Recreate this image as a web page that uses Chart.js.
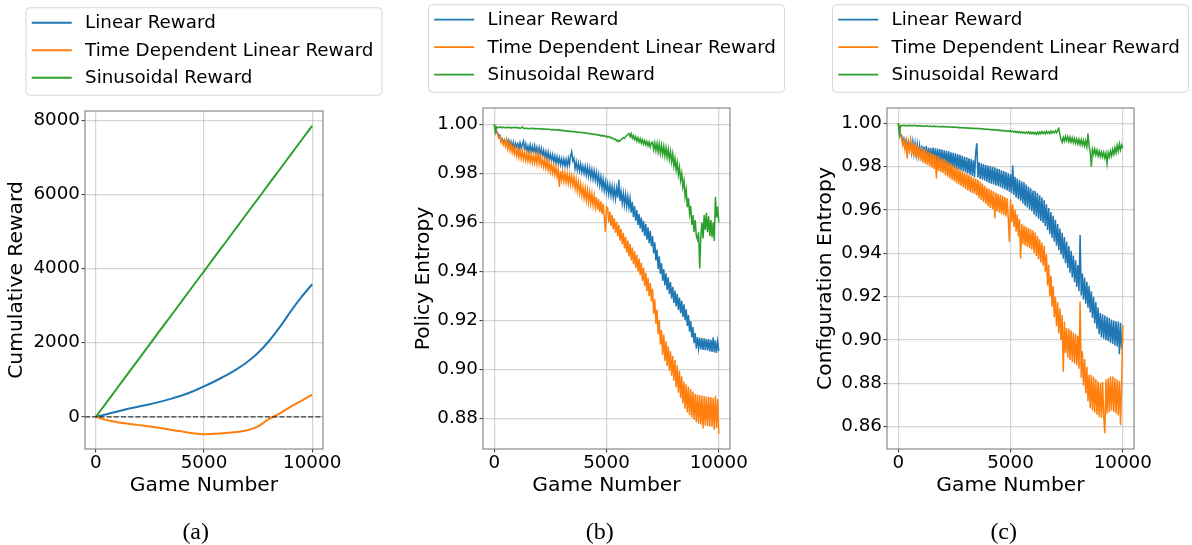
<!DOCTYPE html>
<html>
<head>
<meta charset="utf-8">
<title>Reward, policy entropy and configuration entropy over games</title>
<script src="https://cdn.jsdelivr.net/npm/chart.js@4.4.1/dist/chart.umd.min.js"></script>
<style>
  html, body { margin: 0; padding: 0; background: #ffffff; }
  #wrap { position: relative; width: 1192px; height: 545px; overflow: hidden; background: #ffffff; }
  #wrap canvas { position: absolute; left: 0; top: 0; }
</style>
</head>
<body>
<div id="wrap">
  <canvas id="panelA" width="1192" height="545"></canvas>
  <canvas id="panelB" width="1192" height="545"></canvas>
  <canvas id="panelC" width="1192" height="545"></canvas>
</div>
<script>
// ---------------- data ----------------
const seriesNames = ['Linear Reward', 'Time Dependent Linear Reward', 'Sinusoidal Reward'];

// x tick labels shared by every panel
const gameTicks = [0, 5000, 10000];
const cumulativeTicks = [0, 2000, 4000, 6000, 8000];
const policyTicks = [0.88, 0.90, 0.92, 0.94, 0.96, 0.98, 1.00];
const configTicks = [0.86, 0.88, 0.90, 0.92, 0.94, 0.96, 0.98, 1.00];

// (a) cumulative reward, sampled every 500 games
const gamesCoarse = [0, 500, 1000, 1500, 2000, 2500, 3000, 3500, 4000, 4500, 5000,
  5500, 6000, 6500, 7000, 7500, 8000, 8500, 9000, 9500, 10000];
const cumLinear = [0, 70, 145, 215, 280, 340, 410, 490, 580, 690, 820,
  960, 1110, 1280, 1480, 1730, 2040, 2420, 2840, 3230, 3580];
const cumTimeDep = [0, -90, -145, -185, -225, -260, -300, -355, -400, -445, -470,
  -460, -440, -410, -365, -260, -60, 90, 270, 430, 600];
const cumSinusoidal = [0, 390, 785, 1180, 1570, 1965, 2360, 2750, 3145, 3540, 3930,
  4325, 4715, 5110, 5505, 5895, 6290, 6680, 7075, 7470, 7860];

// (b), (c) entropies, one sample every 50 games (0 .. 10000)
const games = Array.from({ length: 201 }, (_, i) => i * 50);

const policyLinear = [
  1.0000,0.9988,0.9972,0.9966,0.9950,0.9956,0.9934,0.9942,0.9925,0.9937,0.9921,
  0.9938,0.9915,0.9935,0.9911,0.9929,0.9906,0.9927,0.9902,0.9923,0.9908,
  0.9921,0.9897,0.9925,0.9903,0.9918,0.9932,0.9896,0.9920,0.9890,0.9912,
  0.9888,0.9916,0.9885,0.9910,0.9884,0.9913,0.9881,0.9906,0.9879,0.9905,
  0.9875,0.9901,0.9869,0.9893,0.9864,0.9889,0.9860,0.9886,0.9854,0.9879,
  0.9852,0.9876,0.9848,0.9871,0.9842,0.9868,0.9840,0.9864,0.9836,0.9860,
  0.9833,0.9858,0.9830,0.9856,0.9829,0.9861,0.9834,0.9872,0.9889,0.9851,
  0.9862,0.9820,0.9847,0.9814,0.9842,0.9810,0.9838,0.9805,0.9830,0.9801,
  0.9829,0.9794,0.9826,0.9789,0.9821,0.9782,0.9815,0.9778,0.9811,0.9773,
  0.9804,0.9762,0.9795,0.9752,0.9786,0.9741,0.9776,0.9731,0.9766,0.9723,
  0.9757,0.9716,0.9752,0.9710,0.9748,0.9703,0.9742,0.9697,0.9739,0.9701,
  0.9774,0.9688,0.9726,0.9679,0.9719,0.9672,0.9713,0.9665,0.9706,0.9661,
  0.9698,0.9640,0.9684,0.9622,0.9667,0.9607,0.9651,0.9590,0.9634,0.9576,
  0.9620,0.9560,0.9607,0.9545,0.9594,0.9530,0.9580,0.9516,0.9566,0.9503,
  0.9545,0.9474,0.9519,0.9445,0.9489,0.9410,0.9462,0.9390,0.9434,0.9362,
  0.9410,0.9343,0.9393,0.9325,0.9376,0.9308,0.9357,0.9290,0.9338,0.9272,
  0.9322,0.9258,0.9309,0.9243,0.9294,0.9230,0.9281,0.9215,0.9266,0.9202,
  0.9246,0.9178,0.9222,0.9155,0.9198,0.9131,0.9173,0.9108,0.9149,0.9085,
  0.9133,0.9086,0.9130,0.9082,0.9128,0.9080,0.9127,0.9079,0.9125,0.9078,
  0.9124,0.9074,0.9121,0.9072,0.9132,0.9070,0.9119,0.9068,0.9115,0.9075
];
const policyTimeDep = [
  1.0000,0.9982,0.9966,0.9960,0.9945,0.9950,0.9928,0.9940,0.9917,0.9932,0.9911,
  0.9934,0.9901,0.9925,0.9893,0.9918,0.9886,0.9910,0.9879,0.9904,0.9871,
  0.9898,0.9866,0.9894,0.9862,0.9891,0.9858,0.9887,0.9854,0.9882,0.9850,
  0.9879,0.9848,0.9877,0.9845,0.9875,0.9843,0.9873,0.9841,0.9884,0.9840,
  0.9868,0.9833,0.9862,0.9827,0.9856,0.9821,0.9850,0.9815,0.9844,0.9808,
  0.9838,0.9802,0.9831,0.9795,0.9824,0.9788,0.9817,0.9745,0.9810,0.9774,
  0.9806,0.9768,0.9802,0.9764,0.9798,0.9760,0.9794,0.9756,0.9790,0.9752,
  0.9785,0.9740,0.9775,0.9730,0.9765,0.9720,0.9755,0.9710,0.9745,0.9700,
  0.9738,0.9691,0.9731,0.9684,0.9724,0.9677,0.9717,0.9670,0.9710,0.9663,
  0.9704,0.9652,0.9695,0.9643,0.9686,0.9634,0.9677,0.9625,0.9560,0.9664,
  0.9659,0.9600,0.9645,0.9586,0.9631,0.9572,0.9617,0.9558,0.9603,0.9544,
  0.9590,0.9526,0.9574,0.9510,0.9558,0.9494,0.9542,0.9478,0.9526,0.9462,
  0.9513,0.9445,0.9498,0.9430,0.9483,0.9415,0.9468,0.9400,0.9453,0.9385,
  0.9436,0.9362,0.9416,0.9341,0.9395,0.9320,0.9374,0.9299,0.9353,0.9278,
  0.9330,0.9228,0.9287,0.9186,0.9245,0.9144,0.9203,0.9102,0.9161,0.9060,
  0.9143,0.9035,0.9115,0.9015,0.9095,0.8995,0.9075,0.8975,0.9055,0.8955,
  0.9039,0.8928,0.9017,0.8906,0.8995,0.8884,0.8973,0.8862,0.8951,0.8840,
  0.8940,0.8825,0.8930,0.8815,0.8920,0.8805,0.8910,0.8795,0.8900,0.8785,
  0.8898,0.8779,0.8895,0.8776,0.8894,0.8760,0.8892,0.8772,0.8890,0.8770,
  0.8889,0.8768,0.8887,0.8766,0.8885,0.8755,0.8893,0.8762,0.8880,0.8738
];
const policySinusoidal = [
  1.0000,0.9968,0.9990,0.9986,0.9989,0.9987,0.9990,0.9986,0.9989,0.9987,0.9988,
  0.9986,0.9989,0.9987,0.9988,0.9985,0.9988,0.9986,0.9989,0.9986,0.9988,
  0.9985,0.9987,0.9984,0.9986,0.9990,0.9985,0.9983,0.9985,0.9983,0.9984,
  0.9982,0.9984,0.9983,0.9985,0.9982,0.9984,0.9981,0.9983,0.9982,0.9983,
  0.9981,0.9983,0.9980,0.9982,0.9980,0.9982,0.9979,0.9981,0.9979,0.9980,
  0.9978,0.9980,0.9977,0.9979,0.9977,0.9979,0.9976,0.9978,0.9975,0.9977,
  0.9974,0.9976,0.9973,0.9975,0.9972,0.9974,0.9971,0.9973,0.9970,0.9972,
  0.9969,0.9971,0.9968,0.9970,0.9967,0.9969,0.9966,0.9968,0.9965,0.9967,
  0.9964,0.9966,0.9963,0.9964,0.9961,0.9963,0.9960,0.9962,0.9959,0.9960,
  0.9957,0.9959,0.9955,0.9957,0.9953,0.9956,0.9952,0.9954,0.9950,0.9953,
  0.9948,0.9951,0.9946,0.9948,0.9942,0.9944,0.9938,0.9940,0.9933,0.9936,
  0.9929,0.9934,0.9938,0.9942,0.9946,0.9943,0.9950,0.9955,0.9958,0.9963,
  0.9950,0.9962,0.9944,0.9955,0.9938,0.9950,0.9932,0.9946,0.9928,0.9942,
  0.9924,0.9938,0.9920,0.9934,0.9916,0.9930,0.9912,0.9928,0.9908,0.9925,
  0.9928,0.9898,0.9925,0.9893,0.9922,0.9888,0.9920,0.9882,0.9915,0.9878,
  0.9910,0.9872,0.9905,0.9866,0.9898,0.9858,0.9890,0.9848,0.9880,0.9830,
  0.9862,0.9815,0.9845,0.9795,0.9825,0.9772,0.9800,0.9745,0.9772,0.9705,
  0.9735,0.9662,0.9700,0.9635,0.9668,0.9590,0.9630,0.9560,0.9610,0.9545,
  0.9530,0.9560,0.9412,0.9540,0.9600,0.9535,0.9630,0.9570,0.9640,0.9560,
  0.9625,0.9545,0.9610,0.9540,0.9600,0.9525,0.9705,0.9620,0.9665,0.9600
];

const configLinear = [
  1.0000,0.9972,0.9950,0.9945,0.9915,0.9930,0.9898,0.9922,0.9888,0.9915,0.9881,
  0.9920,0.9868,0.9915,0.9862,0.9908,0.9855,0.9903,0.9850,0.9896,0.9842,
  0.9898,0.9836,0.9893,0.9833,0.9895,0.9831,0.9888,0.9828,0.9886,0.9824,
  0.9888,0.9822,0.9885,0.9820,0.9884,0.9818,0.9881,0.9815,0.9879,0.9812,
  0.9876,0.9810,0.9873,0.9806,0.9871,0.9802,0.9867,0.9799,0.9864,0.9795,
  0.9862,0.9790,0.9858,0.9786,0.9855,0.9783,0.9850,0.9778,0.9846,0.9772,
  0.9843,0.9768,0.9839,0.9762,0.9835,0.9757,0.9830,0.9752,0.9865,0.9908,
  0.9750,0.9820,0.9743,0.9816,0.9740,0.9812,0.9735,0.9808,0.9731,0.9805,
  0.9725,0.9803,0.9721,0.9800,0.9718,0.9797,0.9714,0.9792,0.9710,0.9789,
  0.9705,0.9784,0.9700,0.9780,0.9695,0.9775,0.9690,0.9770,0.9685,0.9766,
  0.9678,0.9805,0.9670,0.9753,0.9658,0.9745,0.9650,0.9738,0.9643,0.9731,
  0.9630,0.9728,0.9620,0.9718,0.9612,0.9708,0.9603,0.9700,0.9595,0.9690,
  0.9580,0.9688,0.9570,0.9678,0.9560,0.9668,0.9550,0.9658,0.9540,0.9645,
  0.9526,0.9627,0.9508,0.9609,0.9490,0.9591,0.9472,0.9573,0.9454,0.9555,
  0.9435,0.9535,0.9415,0.9515,0.9395,0.9495,0.9375,0.9475,0.9355,0.9455,
  0.9333,0.9434,0.9311,0.9412,0.9289,0.9390,0.9267,0.9368,0.9245,0.9346,
  0.9225,0.9485,0.9206,0.9307,0.9187,0.9288,0.9168,0.9269,0.9149,0.9250,
  0.9127,0.9225,0.9102,0.9200,0.9077,0.9175,0.9052,0.9150,0.9027,0.9125,
  0.9012,0.9119,0.9006,0.9113,0.9000,0.9107,0.8994,0.9101,0.8988,0.9095,
  0.8982,0.9090,0.8975,0.9086,0.8970,0.9085,0.8935,0.9080,0.8960,0.9010
];
const configTimeDep = [
  1.0000,0.9975,0.9942,0.9930,0.9898,0.9922,0.9880,0.9915,0.9838,0.9910,0.9875,
  0.9918,0.9858,0.9912,0.9850,0.9905,0.9843,0.9898,0.9836,0.9890,0.9828,
  0.9888,0.9820,0.9882,0.9814,0.9876,0.9808,0.9870,0.9802,0.9864,0.9796,
  0.9860,0.9790,0.9855,0.9746,0.9850,0.9780,0.9844,0.9775,0.9838,0.9770,
  0.9835,0.9761,0.9828,0.9754,0.9820,0.9746,0.9813,0.9739,0.9806,0.9732,
  0.9800,0.9724,0.9793,0.9718,0.9786,0.9711,0.9779,0.9704,0.9772,0.9697,
  0.9767,0.9690,0.9762,0.9685,0.9756,0.9679,0.9750,0.9673,0.9745,0.9667,
  0.9740,0.9655,0.9731,0.9646,0.9722,0.9637,0.9712,0.9628,0.9703,0.9618,
  0.9698,0.9610,0.9692,0.9605,0.9686,0.9562,0.9680,0.9594,0.9675,0.9588,
  0.9672,0.9582,0.9666,0.9576,0.9660,0.9570,0.9654,0.9562,0.9454,0.9648,
  0.9545,0.9625,0.9522,0.9601,0.9500,0.9580,0.9478,0.9557,0.9376,0.9535,
  0.9442,0.9530,0.9436,0.9523,0.9430,0.9517,0.9424,0.9511,0.9418,0.9505,
  0.9403,0.9496,0.9388,0.9480,0.9373,0.9465,0.9358,0.9450,0.9343,0.9435,
  0.9315,0.9396,0.9252,0.9347,0.9203,0.9298,0.9154,0.9249,0.9105,0.9200,
  0.9064,0.9175,0.9030,0.9145,0.9000,0.9115,0.8854,0.9085,0.8940,0.9055,
  0.8918,0.9052,0.8908,0.9044,0.8900,0.9036,0.8892,0.9028,0.8884,0.9020,
  0.8868,0.9177,0.8826,0.8948,0.8790,0.8912,0.8754,0.8876,0.8718,0.8840,
  0.8685,0.8840,0.8675,0.8830,0.8665,0.8820,0.8655,0.8810,0.8645,0.8800,
  0.8640,0.8806,0.8650,0.8570,0.8818,0.8660,0.8825,0.8668,0.8831,0.8675,
  0.8832,0.8668,0.8825,0.8660,0.8818,0.8652,0.8812,0.8608,0.8800,0.9070
];
const configSinusoidal = [
  1.0000,0.9950,0.9990,0.9988,0.9991,0.9989,0.9991,0.9988,0.9990,0.9989,0.9991,
  0.9988,0.9990,0.9988,0.9991,0.9989,0.9990,0.9987,0.9990,0.9988,0.9989,
  0.9987,0.9989,0.9986,0.9988,0.9987,0.9989,0.9986,0.9988,0.9986,0.9987,
  0.9985,0.9988,0.9985,0.9987,0.9985,0.9986,0.9984,0.9986,0.9984,0.9986,
  0.9983,0.9985,0.9983,0.9985,0.9982,0.9984,0.9982,0.9984,0.9981,0.9983,
  0.9981,0.9983,0.9980,0.9982,0.9979,0.9981,0.9979,0.9981,0.9978,0.9980,
  0.9978,0.9980,0.9977,0.9979,0.9976,0.9978,0.9976,0.9978,0.9975,0.9977,
  0.9975,0.9977,0.9974,0.9976,0.9973,0.9975,0.9972,0.9974,0.9972,0.9974,
  0.9971,0.9973,0.9970,0.9972,0.9969,0.9971,0.9968,0.9971,0.9967,0.9970,
  0.9966,0.9969,0.9965,0.9968,0.9964,0.9967,0.9963,0.9966,0.9962,0.9966,
  0.9961,0.9965,0.9959,0.9964,0.9958,0.9963,0.9957,0.9962,0.9956,0.9961,
  0.9955,0.9960,0.9954,0.9960,0.9955,0.9961,0.9953,0.9960,0.9952,0.9959,
  0.9951,0.9958,0.9950,0.9959,0.9951,0.9960,0.9952,0.9962,0.9953,0.9961,
  0.9952,0.9963,0.9954,0.9962,0.9953,0.9964,0.9955,0.9963,0.9956,0.9966,
  0.9957,0.9968,0.9977,0.9948,0.9925,0.9912,0.9935,0.9918,0.9940,0.9920,
  0.9938,0.9916,0.9936,0.9914,0.9933,0.9911,0.9930,0.9908,0.9928,0.9905,
  0.9926,0.9902,0.9925,0.9900,0.9922,0.9896,0.9918,0.9892,0.9954,0.9895,
  0.9870,0.9800,0.9880,0.9858,0.9882,0.9855,0.9876,0.9850,0.9872,0.9847,
  0.9868,0.9845,0.9866,0.9840,0.9862,0.9815,0.9864,0.9845,0.9872,0.9850,
  0.9880,0.9858,0.9888,0.9864,0.9898,0.9872,0.9905,0.9878,0.9900,0.9885
];

// ---------------- styling ----------------
const PAGE_W = 1192, PAGE_H = 545;
const BLUE = '#1f77b4', ORANGE = '#ff7f0e', GREEN = '#2ca02c';
const FONT = '"DejaVu Sans", sans-serif';
Chart.defaults.font.family = FONT;
Chart.defaults.color = '#000000';

const tickFont = { family: FONT, size: 18.3, lineHeight: 1.0 };
const titleFont = { family: FONT, size: 20.3, lineHeight: 1.2 };
const gridColor = 'rgba(176,176,176,0.55)';

function toPoints(xs, ys) {
  return ys.map((y, i) => ({ x: xs[i], y: y }));
}

// frame around the plot area, the boxed legend above it and the sub-caption below
const panelDecor = {
  id: 'panelDecor',
  afterDatasetsDraw(chart) {
    const a = chart.chartArea, ctx = chart.ctx;
    ctx.save();
    ctx.strokeStyle = '#7f7f7f';
    ctx.lineWidth = 1.1;
    ctx.strokeRect(a.left, a.top, a.right - a.left, a.bottom - a.top);
    ctx.restore();
  },
  afterDraw(chart, args, opts) {
    const a = chart.chartArea, ctx = chart.ctx;
    const items = chart.data.datasets.filter(d => !d.noLegend);
    ctx.save();
    ctx.font = '18.3px ' + FONT;
    const tw = Math.max(...items.map(d => ctx.measureText(d.label).width));
    const w = 59 + tw + 8.5, h = 87.5;
    const x0 = (a.left + a.right) / 2 - w / 2;
    const y0 = a.top - 15.8 - h;
    const r = 4;
    ctx.beginPath();
    ctx.moveTo(x0 + r, y0);
    ctx.lineTo(x0 + w - r, y0);
    ctx.arcTo(x0 + w, y0, x0 + w, y0 + r, r);
    ctx.lineTo(x0 + w, y0 + h - r);
    ctx.arcTo(x0 + w, y0 + h, x0 + w - r, y0 + h, r);
    ctx.lineTo(x0 + r, y0 + h);
    ctx.arcTo(x0, y0 + h, x0, y0 + h - r, r);
    ctx.lineTo(x0, y0 + r);
    ctx.arcTo(x0, y0, x0 + r, y0, r);
    ctx.closePath();
    ctx.fillStyle = 'rgba(255,255,255,0.8)';
    ctx.fill();
    ctx.strokeStyle = '#d6d6d6';
    ctx.lineWidth = 1;
    ctx.stroke();
    ctx.textBaseline = 'middle';
    ctx.textAlign = 'left';
    items.forEach((d, i) => {
      const y = y0 + 15 + i * 27.5;
      ctx.strokeStyle = d.borderColor;
      ctx.lineWidth = opts.legendLineWidth;
      ctx.beginPath();
      ctx.moveTo(x0 + 5.7, y);
      ctx.lineTo(x0 + 45.7, y);
      ctx.stroke();
      ctx.fillStyle = '#000000';
      ctx.fillText(d.label, x0 + 59, y + 1);
    });
    ctx.font = '24px "Liberation Serif", "DejaVu Serif", serif';
    ctx.textAlign = 'center';
    ctx.fillStyle = '#000000';
    ctx.fillText(opts.caption, opts.captionX, 532.5);
    ctx.restore();
  }
};

function buildChart(canvasId, p, datasets) {
  return new Chart(document.getElementById(canvasId), {
    type: 'line',
    data: { datasets: datasets },
    plugins: [panelDecor],
    options: {
      responsive: false,
      animation: false,
      devicePixelRatio: 1,
      events: [],
      layout: {
        padding: {
          left: p.left - p.yAxisWidth,
          right: PAGE_W - p.right,
          top: p.top,
          bottom: PAGE_H - p.bottom - p.xAxisHeight
        }
      },
      elements: { point: { radius: 0 } },
      plugins: {
        legend: { display: false },
        tooltip: { enabled: false },
        panelDecor: { caption: p.caption, captionX: p.captionX, legendLineWidth: p.legendLineWidth }
      },
      scales: {
        x: {
          type: 'linear',
          min: p.xMin, max: p.xMax,
          afterBuildTicks: s => { s.ticks = gameTicks.map(v => ({ value: v })); },
          afterFit: s => { s.height = p.xAxisHeight; },
          ticks: { font: tickFont, padding: 1.5, maxRotation: 0, autoSkip: false, color: '#000',
                   callback: v => String(v) },
          grid: { color: gridColor, lineWidth: 1.2, tickLength: 3.5, tickColor: '#333', tickWidth: 1 },
          border: { display: false },
          title: { display: true, text: 'Game Number', font: titleFont, padding: 0, color: '#000' }
        },
        y: {
          type: 'linear',
          min: p.yMin, max: p.yMax,
          afterBuildTicks: s => { s.ticks = p.yTicks.map(v => ({ value: v })); },
          afterFit: s => { s.width = p.yAxisWidth; },
          ticks: { font: tickFont, padding: 1.5, autoSkip: false, color: '#000',
                   callback: v => p.yFormat(v) },
          grid: { color: gridColor, lineWidth: 1.2, tickLength: 3.5, tickColor: '#333', tickWidth: 1 },
          border: { display: false },
          title: { display: true, text: p.yTitle, font: titleFont, padding: 0, color: '#000' }
        }
      }
    }
  });
}

// (a) cumulative reward
buildChart('panelA', {
  left: 85, right: 323, top: 111, bottom: 449, yAxisWidth: 80.2, xAxisHeight: 49,
  xMin: -500, xMax: 10500, yMin: -870, yMax: 8260, yTicks: cumulativeTicks,
  yFormat: v => String(v), yTitle: 'Cumulative Reward',
  caption: '(a)', captionX: 195.7, legendLineWidth: 2
}, [
  { label: seriesNames[0], data: toPoints(gamesCoarse, cumLinear), borderColor: BLUE,
    borderWidth: 2, cubicInterpolationMode: 'monotone', order: 3 },
  { label: seriesNames[1], data: toPoints(gamesCoarse, cumTimeDep), borderColor: ORANGE,
    borderWidth: 2, cubicInterpolationMode: 'monotone', order: 2 },
  { label: seriesNames[2], data: toPoints(gamesCoarse, cumSinusoidal), borderColor: GREEN,
    borderWidth: 2, cubicInterpolationMode: 'monotone', order: 1 },
  { label: 'zero', noLegend: true, data: [{ x: -500, y: 0 }, { x: 10500, y: 0 }],
    borderColor: 'rgba(0,0,0,0.75)', borderWidth: 1.2, borderDash: [5, 2.2], order: 0 }
]);

// (b) policy entropy
buildChart('panelB', {
  left: 483, right: 730, top: 108, bottom: 449, yAxisWidth: 71.9, xAxisHeight: 49,
  xMin: -500, xMax: 10500, yMin: 0.8676, yMax: 1.0067, yTicks: policyTicks,
  yFormat: v => v.toFixed(2), yTitle: 'Policy Entropy',
  caption: '(b)', captionX: 599.7, legendLineWidth: 1.8
}, [
  { label: seriesNames[0], data: toPoints(games, policyLinear), borderColor: BLUE, borderWidth: 1.5, order: 3 },
  { label: seriesNames[1], data: toPoints(games, policyTimeDep), borderColor: ORANGE, borderWidth: 1.5, order: 2 },
  { label: seriesNames[2], data: toPoints(games, policySinusoidal), borderColor: GREEN, borderWidth: 1.5, order: 1 }
]);

// (c) configuration entropy
buildChart('panelC', {
  left: 887, right: 1134, top: 108, bottom: 449, yAxisWidth: 73.2, xAxisHeight: 49,
  xMin: -500, xMax: 10500, yMin: 0.8497, yMax: 1.0071, yTicks: configTicks,
  yFormat: v => v.toFixed(2), yTitle: 'Configuration Entropy',
  caption: '(c)', captionX: 1003.7, legendLineWidth: 1.8
}, [
  { label: seriesNames[0], data: toPoints(games, configLinear), borderColor: BLUE, borderWidth: 1.5, order: 3 },
  { label: seriesNames[1], data: toPoints(games, configTimeDep), borderColor: ORANGE, borderWidth: 1.5, order: 2 },
  { label: seriesNames[2], data: toPoints(games, configSinusoidal), borderColor: GREEN, borderWidth: 1.5, order: 1 }
]);
</script>
</body>
</html>
